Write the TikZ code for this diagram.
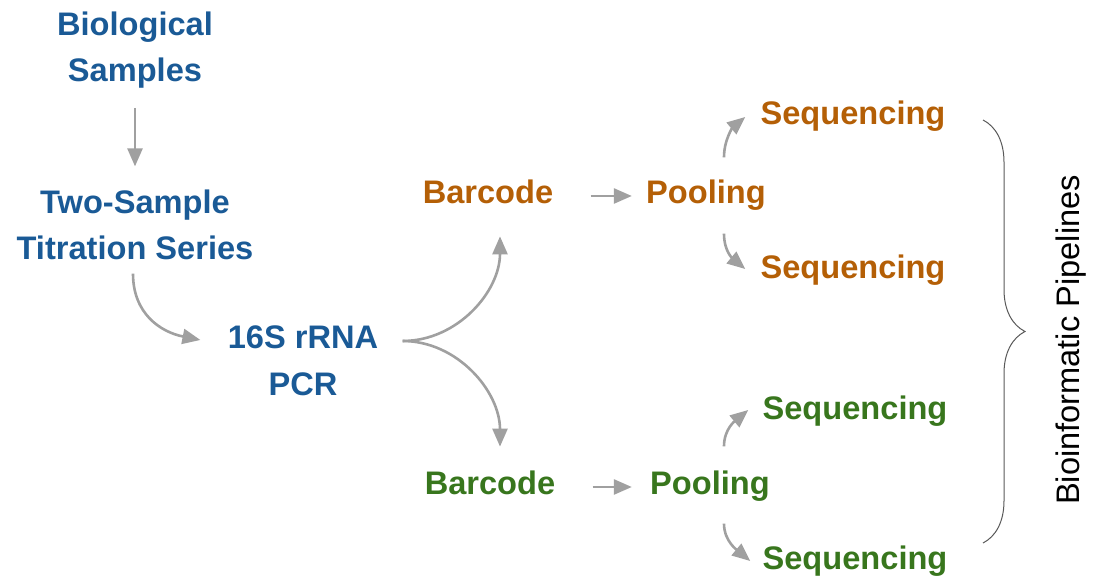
\documentclass[tikz,border=0pt]{standalone}
\usepackage{fontspec}
\setmainfont{Liberation Sans}
\usetikzlibrary{calc,arrows.meta,decorations.pathreplacing}
\definecolor{stepblue}{HTML}{1A5A96}
\definecolor{steporange}{HTML}{B45F06}
\definecolor{stepgreen}{HTML}{38761D}
\definecolor{arrowgray}{HTML}{A0A0A0}
\begin{document}
\begin{tikzpicture}[x=.5pt, y=-.5pt,
  lbl/.style={inner sep=0pt, align=center, font=\fontsize{16.3}{23.25}\selectfont\bfseries},
  blu/.style={lbl, text=stepblue},
  org/.style={lbl, text=steporange},
  grn/.style={lbl, text=stepgreen},
  arr/.style={draw=arrowgray, line width=1.3pt, -{Triangle[width=7.5pt,length=9pt]}},
  brc/.style={draw=black!65, line width=.5pt, decorate, decoration={brace, amplitude=21pt}}]
\useasboundingbox (0,0) rectangle (1094,576);

\node[blu] (bio) at (135,50)  {Biological\\Samples};
\node[blu] (tss) at (135,225) {Two-Sample\\Titration Series};
\node[blu] (pcr) at (303,361) {16S rRNA\\PCR};

\node[org] (bco) at (488,192) {Barcode};
\node[org] (poo) at (706,195) {Pooling};
\node[org] (so1) at (853,116) {Sequencing};
\node[org] (so2) at (853,270) {Sequencing};

\node[grn] (bcg) at (490,483) {Barcode};
\node[grn] (pog) at (710,486) {Pooling};
\node[grn] (sg1) at (855,411) {Sequencing};
\node[grn] (sg2) at (855,561) {Sequencing};

\node[inner sep=0pt, font=\fontsize{16.3}{20}\selectfont, rotate=90] (bip) at (1071,340) {Bioinformatic Pipelines};

\draw[arr] ($(bio.south)+(0,19)$) -- ($(tss.north)+(0,-23)$);
\draw[arr] ($(tss.south)+(-2,13)$) .. controls +(0,40) and +(-40,-8) .. ($(pcr.west)+(-27,-21)$);
\draw[arr] ($(pcr.east)+(24,-20)$) .. controls +(55,0) and +(0,55) .. ($(bco.south)+(12,32)$);
\draw[arr] ($(pcr.east)+(24,-20)$) .. controls +(55,0) and +(0,-55) .. ($(bcg.north)+(10,-24)$);

\draw[arr] ($(bco.east)+(37,4)$) -- ($(poo.west)+(-14,1)$);
\draw[arr] ($(bcg.east)+(37,4)$) -- ($(pog.west)+(-18,1)$);

\draw[arr] ($(poo.north)+(18,-22)$) .. controls +(0,-18) and +(-12,10) .. ($(so1.west)+(-15,1)$);
\draw[arr] ($(poo.south)+(18,23)$) .. controls +(0,18) and +(-12,-10) .. ($(so2.west)+(-15,-1)$);
\draw[arr] ($(pog.north)+(14,-24)$) .. controls +(0,-18) and +(-12,10) .. ($(sg1.west)+(-14,-1)$);
\draw[arr] ($(pog.south)+(14,22)$) .. controls +(0,18) and +(-12,-10) .. ($(sg2.west)+(-12,0)$);

\coordinate (brtop) at (983,120);
\coordinate (brbot) at (983,543);
\draw[brc] (brtop) -- (brbot);
\end{tikzpicture}
\end{document}
